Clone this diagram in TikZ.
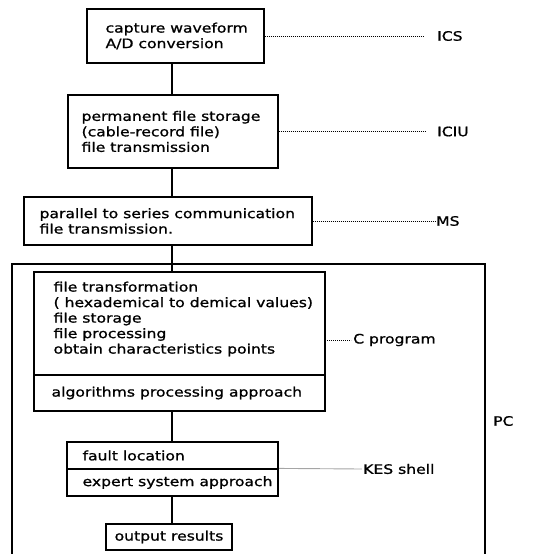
\documentclass[tikz,border=0pt]{standalone}
\usepackage{fontspec}
\setmainfont{DejaVu Sans}[FakeStretch=1.2,FakeBold=1]
\usetikzlibrary{positioning}
\begin{document}
\begin{tikzpicture}[x=1pt,y=-1pt,
  box/.style={draw, line width=1.2pt, inner sep=0pt},
  txt/.style={inner sep=0pt, align=left, font=\fontsize{13}{15.5}\selectfont},
  lbl/.style={inner ysep=0pt, anchor=west, font=\fontsize{13}{15.5}\selectfont},
  dots/.style={line width=0.9pt, dash pattern=on 0.8pt off 1.2pt},
  conn/.style={line width=1.2pt}]
\useasboundingbox (0,0) rectangle (537,554);
\coordinate (spine) at (172,0);
% boxes
\node[box, minimum width=177pt, minimum height=54pt] (b1) at (175.5,36) {};
\node[box, minimum width=210pt, minimum height=73pt] (b2) at (173,131.5) {};
\node[box, minimum width=288pt, minimum height=48pt] (b3) at (168,221) {};
\node[box, minimum width=291pt, minimum height=103pt] (c) at (179.5,323.5) {};
\node[box, minimum width=291pt, minimum height=36pt] (alg) at (179.5,393) {};
\node[box, minimum width=211pt, minimum height=27pt] (fault) at (172.5,455.5) {};
\node[box, minimum width=211pt, minimum height=27pt] (expert) at (172.5,482.5) {};
\node[box, minimum width=126pt, minimum height=26pt] (out) at (169,537) {};
% texts
\node[txt, anchor=west] (t1) at ([xshift=19pt]b1.west) {capture waveform\\A/D conversion};
\node[txt, anchor=west] (t2) at ([xshift=14pt]b2.west) {permanent file storage\\(cable-record file)\\file transmission};
\node[txt, anchor=west] (t3) at ([xshift=16pt]b3.west) {parallel to series communication\\file transmission.};
\node[txt, anchor=west] (tc) at ([xshift=20pt,yshift=4.5pt]c.west) {file transformation\\( hexademical to demical values)\\file storage\\file processing\\obtain characteristics points};
\node[txt, anchor=west] (talg) at ([xshift=18pt]alg.west) {algorithms processing approach};
\node[txt, anchor=west] (tf) at ([xshift=16pt]fault.west) {fault location};
\node[txt, anchor=west] (te) at ([xshift=16pt]expert.west) {expert system approach};
\node[txt] (to) at (out.center) {output results};
% PC frame
\coordinate (pcbl) at (12,560);
\coordinate (pctl) at (12,264);
\coordinate (pcbr) at (485,560);
\draw[conn] (pcbl) |- (pctl -| pcbr) -- (pcbr);
% connectors
\draw[conn] (b1.south -| spine) -- (b2.north -| spine);
\draw[conn] (b2.south -| spine) -- (b3.north -| spine);
\draw[conn] (b3.south -| spine) -- (c.north -| spine);
\draw[conn] (alg.south -| spine) -- (fault.north -| spine);
\draw[conn] (expert.south -| spine) -- (out.north -| spine);
% labels
\node[lbl, inner xsep=14pt] (ics) at (423,36) {ICS};
\node[lbl, inner xsep=12pt] (iciu) at (425,131.5) {ICIU};
\node[lbl, inner xsep=1pt] (ms) at (435,221) {MS};
\coordinate (cdot) at (325,340);
\node[lbl, inner xsep=2pt] (cp) at (351,340) {C program};
\node[lbl, inner xsep=1pt] (kes) at (362,469) {KES shell};
\node[lbl, inner xsep=0pt] (pc) at (493,421) {PC};
\draw[dots] (b1.east) -- (ics.west);
\draw[dots] (b2.east) -- (iciu.west);
\draw[dots] (b3.east) -- (ms.west);
\draw[dots] (cdot) -- (cp.west);
\draw[dots] (expert.north east) -- (kes.west);
\end{tikzpicture}
\end{document}
